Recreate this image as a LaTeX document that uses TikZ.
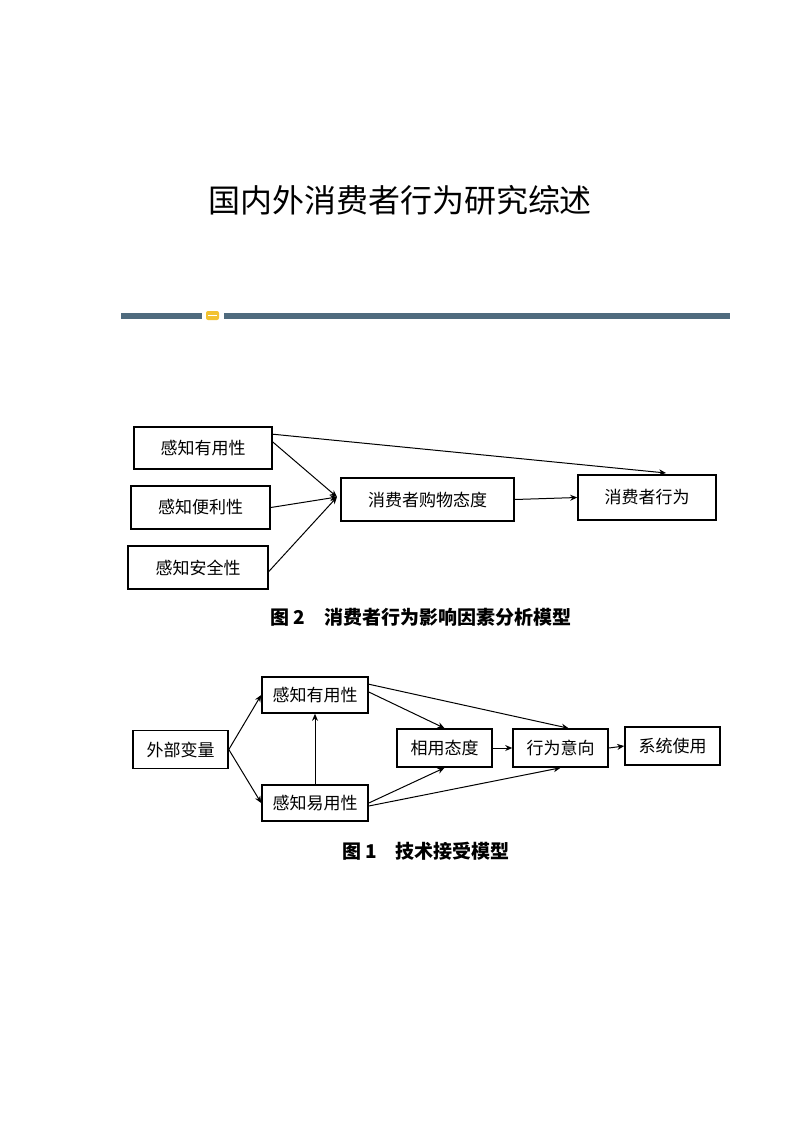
\documentclass[tikz,border=0pt]{standalone}
\usepackage{fontspec}
\newfontfamily\cjk{Noto Sans CJK SC}
\usetikzlibrary{arrows.meta}
\definecolor{bar}{HTML}{4F6B7E}
\definecolor{gold}{HTML}{F2C230}
\tikzset{
 bx/.style={draw,line width=0.8pt,inner sep=0pt,font=\cjk\fontsize{8.5pt}{10pt}\selectfont},
 ar/.style={-{Stealth[length=3.5pt,width=3pt]},line width=0.5pt},
 captxt/.style={font=\cjk\bfseries\fontsize{9.5pt}{11pt}\selectfont}
}
\begin{document}
\begin{tikzpicture}[x=0.5pt,y=-0.5pt]
\useasboundingbox (0,0) rectangle (800,1131);
\node (title) at (400,200) {\cjk\fontsize{16pt}{18pt}\selectfont 国内外消费者行为研究综述};
\fill[bar] (121,313) rectangle (202,319);
\fill[bar] (224,313) rectangle (730,319);
\fill[gold,rounded corners=1pt] (206,311) rectangle (219,320);
\fill[white] (208,315) rectangle (217,316);
% diagram 1
\node[bx] (a1) at (203,448) {\parbox[c][21pt]{69pt}{\centering 感知有用性}};
\node[bx] (a2) at (200.5,507.5) {\parbox[c][21.5pt]{69.5pt}{\centering 感知便利性}};
\node[bx] (a3) at (198,567.5) {\parbox[c][21.5pt]{70pt}{\centering 感知安全性}};
\node[bx] (att) at (427.5,499.5) {\parbox[c][21.5pt]{86.5pt}{\centering 消费者购物态度}};
\node[bx] (beh) at (647,497.5) {\parbox[c][22.5pt]{69pt}{\centering 消费者行为}};
\coordinate (m) at (337,497);
\coordinate (t) at (666,473);
\draw[ar] (a1.north east) ++(0,8) -- (t);
\draw[ar] (a1.east) ++(0,-6) -- (m);
\draw[ar] (a2.east) -- (m);
\draw[ar] (a3.east) ++(0,4) -- (m);
\draw[ar] (att.east) -- (beh.west);
\node[captxt] (c2) at (421,617) {图 2\hspace{1em}消费者行为影响因素分析模型};
% diagram 2
\node[bx] (ext) at (180.5,749.5) {\parbox[c][19pt]{47.5pt}{\centering 外部变量}};
\node[bx] (pu) at (315,695) {\parbox[c][18pt]{53pt}{\centering 感知有用性}};
\node[bx] (pe) at (315,803) {\parbox[c][18pt]{53pt}{\centering 感知易用性}};
\node[bx] (at2) at (444.5,748) {\parbox[c][19pt]{47.5pt}{\centering 相用态度}};
\node[bx] (bi) at (560.5,748) {\parbox[c][19pt]{47.5pt}{\centering 行为意向}};
\node[bx] (use) at (672.5,746) {\parbox[c][19pt]{47.5pt}{\centering 系统使用}};
\draw[ar] (ext.east) -- (pu.west);
\draw[ar] (ext.east) -- (pe.west);
\draw[ar] (pe.north) -- (pu.south);
\draw[ar] (pu.north east) ++(0,8) -- ([xshift=4pt]bi.north);
\draw[ar] (pu.east) ++(0,-3) -- (at2.north);
\draw[ar] (pe.east) -- (at2.south);
\draw[ar] (pe.east) ++(0,3) -- (bi.south);
\draw[ar] (at2.east) -- (bi.west);
\draw[ar] (bi.east) -- (use.west);
\node[captxt] (c1) at (426,851) {图 1\hspace{1em}技术接受模型};
\end{tikzpicture}
\end{document}
